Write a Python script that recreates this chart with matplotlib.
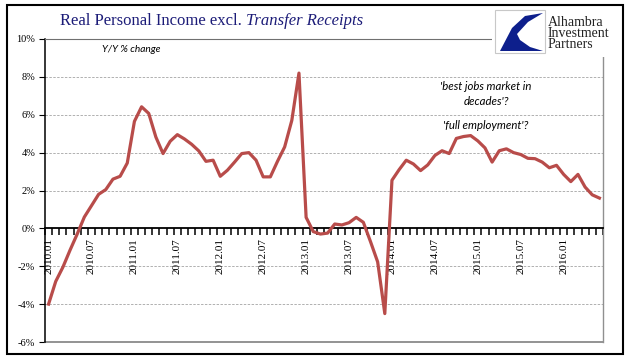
import matplotlib
matplotlib.use("Agg")
import matplotlib.pyplot as plt
from matplotlib.patches import Rectangle, Polygon
from matplotlib.ticker import FuncFormatter, FixedLocator

# Данные: Y/Y % изменение, 2010.01 - 2016.06
months = [f"{y}.{m:02d}" for y in range(2010, 2017) for m in range(1, 13)][:78]
values = [
    -4.0, -2.8, -2.05, -1.15, -0.3, 0.6, 1.2, 1.8, 2.05, 2.6, 2.75, 3.45,
    5.65, 6.42, 6.07, 4.82, 3.95, 4.6, 4.95, 4.72, 4.44, 4.09, 3.54, 3.6,
    2.75, 3.07, 3.5, 3.95, 4.0, 3.6, 2.72, 2.72, 3.54, 4.3, 5.7, 8.2,
    0.58, -0.17, -0.3, -0.25, 0.23, 0.18, 0.3, 0.58, 0.32, -0.7, -1.77, -4.5,
    2.54, 3.1, 3.6, 3.4, 3.05, 3.35, 3.85, 4.1, 3.95, 4.75, 4.85, 4.9,
    4.62, 4.25, 3.5, 4.1, 4.2, 4.0, 3.9, 3.7, 3.68, 3.5, 3.2, 3.33,
    2.85, 2.47, 2.85, 2.18, 1.77, 1.6,
]
tick_labels = ["2010.01", "2010.07", "2011.01", "2011.07", "2012.01", "2012.07",
               "2013.01", "2013.07", "2014.01", "2014.07", "2015.01", "2015.07",
               "2016.01"]
y_ticks = [-6, -4, -2, 0, 2, 4, 6, 8, 10]

W, H = 641, 358


def px(x, y):
    # пиксели -> доли фигуры
    return x / W, 1 - y / H


fig = plt.figure(figsize=(W / 100, H / 100), dpi=100)
ax = fig.add_axes([45 / W, 1 - 342 / H, (603 - 45) / W, (342 - 39) / H])

x = list(range(len(values)))
ax.plot(x, values, color="#b84c4a", lw=2.3, solid_joinstyle="round", zorder=3)

ax.set_xlim(-0.5, len(values) - 0.5)
ax.set_ylim(-6, 10)

# сетка
for v in y_ticks[1:-1]:
    if v != 0:
        ax.axhline(v, color="#b0b0b0", lw=0.7, ls=(0, (2.5, 1.5)), zorder=1)
ax.axhline(-6, color="#808080", lw=1.2, zorder=2, clip_on=False)

# оси
ax.spines["bottom"].set_position(("data", 0))
ax.spines["bottom"].set_linewidth(1.3)
ax.spines["left"].set_linewidth(1.1)
ax.spines["top"].set_color("#707070")
ax.spines["right"].set_color("#909090")
ax.spines["right"].set_linewidth(1.0)

ax.set_xticks([months.index(t) for t in tick_labels])
ax.set_xticklabels(tick_labels, rotation=90, va="top", ha="center",
                   family="Liberation Serif", fontsize=8)
ax.xaxis.set_minor_locator(FixedLocator([i - 0.5 for i in range(len(values) + 1)]))
ax.tick_params(axis="x", which="major", length=0, pad=7)
ax.tick_params(axis="x", which="minor", bottom=True, length=5, width=1.1,
               color="black", direction="out")

ax.set_yticks(y_ticks)
ax.yaxis.set_major_formatter(FuncFormatter(lambda v, p: f"{v:.0f}%"))
ax.tick_params(axis="y", length=4, width=0.8, direction="out", pad=3)
for lb in ax.get_yticklabels():
    lb.set_family("Liberation Serif")
    lb.set_fontsize(7.5)

# подписи
ax.text((131 - 45) / 558, 1 - (50 - 39) / 303, "Y/Y % change",
        transform=ax.transAxes, ha="center", va="center",
        family="Lato", style="italic", fontsize=7.3)
ax.text((486 - 45) / 558, 1 - (94 - 39) / 303, "'best jobs market in\ndecades'?",
        transform=ax.transAxes, ha="center", va="center", linespacing=1.5,
        family="Lato", style="italic", fontsize=8.2)
ax.text((486 - 45) / 558, 1 - (125 - 39) / 303, "'full employment'?",
        transform=ax.transAxes, ha="center", va="center",
        family="Lato", style="italic", fontsize=8.2)

# заголовок
t1 = fig.text(*px(60, 21), "Real Personal Income excl. ", ha="left", va="center",
              family="Liberation Serif", fontsize=12, color="#1c1c78")
fig.canvas.draw()
bb = t1.get_window_extent()
fig.text(bb.x1 / W, 1 - 21 / H, "Transfer Receipts", ha="left", va="center",
         family="Liberation Serif", style="italic", fontsize=12, color="#1c1c78")

# логотип
fig.patches.append(Rectangle(px(492, 57), 135 / W, 54 / H, transform=fig.transFigure,
                             facecolor="white", edgecolor="none", zorder=5))
fig.patches.append(Rectangle(px(495, 53), 50 / W, 43 / H, transform=fig.transFigure,
                             facecolor="white", edgecolor="#c8c8c8", lw=0.8, zorder=6))
swoosh = [(543, 13), (525, 16), (512, 28), (500, 51), (543, 51),
          (530, 47), (520, 40), (517, 34), (528, 22)]
fig.patches.append(Polygon([px(a, b) for a, b in swoosh], closed=True,
                           transform=fig.transFigure, facecolor="#0d1f8c",
                           edgecolor="none", zorder=7))
for i, word in enumerate(["Alhambra", "Investment", "Partners"]):
    fig.text(*px(548, 22 + i * 11.5), word, ha="left", va="center",
             family="Liberation Serif", fontsize=10, color="#222222", zorder=8)

# рамка
fig.patches.append(Rectangle(px(7, 354), (623 - 7) / W, (354 - 5) / H,
                             transform=fig.transFigure, fill=False,
                             edgecolor="black", lw=1.5, zorder=9))

fig.savefig("out.png", dpi=100)
